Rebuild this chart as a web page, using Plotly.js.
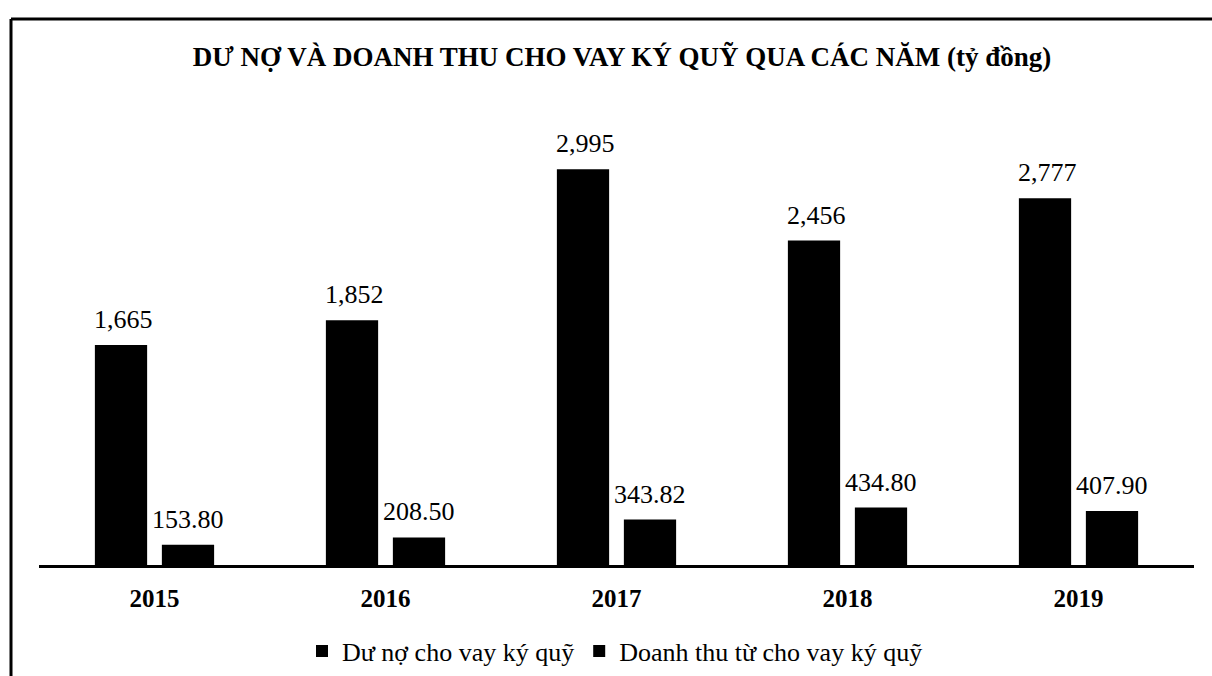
<!DOCTYPE html>
<html>
<head>
<meta charset="utf-8">
<script src="https://cdn.plot.ly/plotly-3.0.1.min.js"></script>
<style>html,body{margin:0;padding:0;background:#fff;}#chart{width:1212px;height:676px;}</style>
</head>
<body>
<div id="chart"></div>
<script>
const years = ['2015', '2016', '2017', '2018', '2019'];
const duNo = [1665, 1852, 2995, 2456, 2777];
const doanhThu = [153.80, 208.50, 343.82, 434.80, 407.90];
const seriesNames = ['Dư nợ cho vay ký quỹ', 'Doanh thu từ cho vay ký quỹ'];
const chartTitle = 'DƯ NỢ VÀ DOANH THU CHO VAY KÝ QUỸ QUA CÁC NĂM (tỷ đồng)';

const FONT = 'Liberation Serif, Times New Roman, serif';

const fmtInt = v => v.toLocaleString('en-US');
const fmtDec = v => v.toFixed(2);

const traces = [
  {type: 'bar', name: seriesNames[0], x: years, y: duNo,
   marker: {color: '#000'}},
  {type: 'bar', name: seriesNames[1], x: years, y: doanhThu,
   marker: {color: '#000'}}
];

const annotations = [];
years.forEach((yr, i) => {
  annotations.push({x: i, y: duNo[i], xref: 'x', yref: 'y', text: fmtInt(duNo[i]),
    showarrow: false, yanchor: 'bottom', xshift: -31, yshift: 9,
    font: {family: FONT, size: 26, color: '#000'}});
  annotations.push({x: i, y: doanhThu[i], xref: 'x', yref: 'y', text: fmtDec(doanhThu[i]),
    showarrow: false, yanchor: 'bottom', xshift: 33, yshift: 9,
    font: {family: FONT, size: 26, color: '#000'}});
});

const layout = {
  width: 1212, height: 676,
  paper_bgcolor: '#fff', plot_bgcolor: '#fff',
  margin: {l: 39, r: 18, t: 100, b: 111, autoexpand: false},
  font: {family: FONT, color: '#000'},
  title: {text: '<b>' + chartTitle + '</b>', x: 622 / 1212, xanchor: 'center', y: 1 - 57/676, yanchor: 'middle',
    font: {family: FONT, size: 27, color: '#000'}},
  barmode: 'group', bargap: 0.42, bargroupgap: 0.22,
  xaxis: {type: 'category', range: [-0.5, 4.5], showline: true, linecolor: '#000', linewidth: 2.5,
    ticks: 'outside', ticklen: 9, tickcolor: 'rgba(0,0,0,0)', showgrid: false, zeroline: false,
    automargin: false,
    tickfont: {family: FONT, size: 25, color: '#000', weight: 'bold'}},
  yaxis: {range: [0, 3520], visible: false, showgrid: false, zeroline: false, automargin: false},
  showlegend: true,
  legend: {orientation: 'h', x: (615 - 39) / 1155, xanchor: 'center', y: (565 - 651) / 465, yanchor: 'middle',
    font: {family: FONT, size: 26, color: '#000'},
    bgcolor: 'rgba(0,0,0,0)'},
  annotations: annotations,
  shapes: [
    {type: 'line', xref: 'paper', yref: 'paper', x0: (11 - 39) / 1155, x1: (1212 - 39) / 1155,
     y0: (565 - 19) / 465, y1: (565 - 19) / 465, line: {color: '#000', width: 3}},
    {type: 'line', xref: 'paper', yref: 'paper', x0: (11 - 39) / 1155, x1: (11 - 39) / 1155,
     y0: (565 - 19) / 465, y1: (565 - 680) / 465, line: {color: '#000', width: 3}}
  ]
};

Plotly.newPlot('chart', traces, layout, {displayModeBar: false, staticPlot: true});
</script>
</body>
</html>
